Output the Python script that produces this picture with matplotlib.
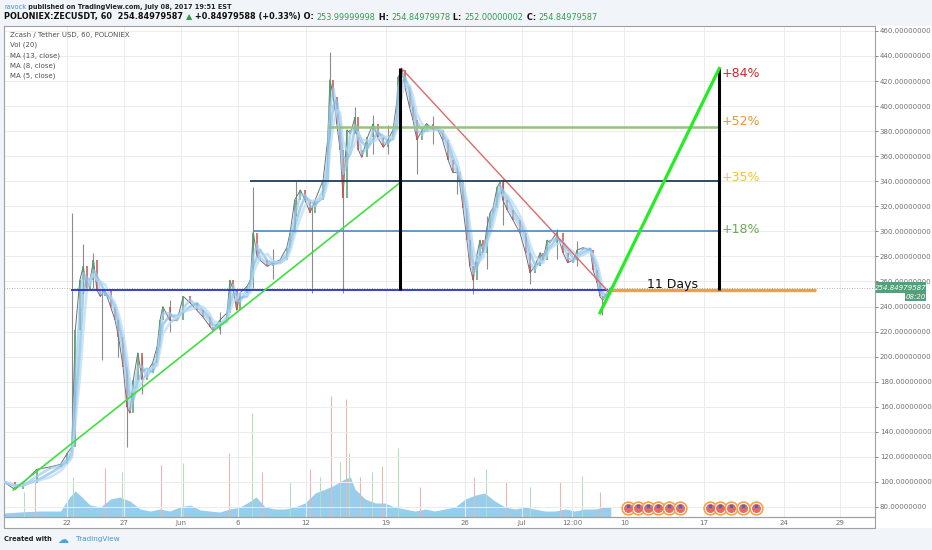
#!/usr/bin/env python3

import matplotlib
matplotlib.use("Agg")
import matplotlib.pyplot as plt
import pandas as pd
from matplotlib.patches import Rectangle

W, H = 932, 550

# time axis is counted in days from June 1st 2017
tick_days = [-10, -5, 0, 5, 11, 18, 25, 30, 34.4, 39, 46, 53, 58]
tick_labels = ["22", "27", "Jun", "6", "12", "19", "26", "Jul", "12:00", "10", "17", "24", "29"]
price_ticks = list(range(80, 461, 20))

days = [-15.6, -14.6, -13.9, -12.7, -11.5, -10.6, -10.0, -9.6, -9.3, -8.9,
        -8.6, -8.3, -8.0, -7.7, -7.4, -7.1, -6.7, -6.2, -5.8, -5.5,
        -5.1, -4.75, -4.5, -4.2, -3.8, -3.4, -3.0, -2.5, -2.1, -1.85,
        -1.6, -1.0, -0.35, 0.2, 0.8, 1.4, 1.9, 2.55, 2.8, 3.4,
        4.05, 4.3, 4.6, 4.9, 5.2, 5.8, 6.1, 6.35, 6.7, 6.95,
        7.6, 8.1, 8.7, 9.3, 9.6, 10.0, 10.5, 10.9, 11.35, 11.8,
        12.5, 12.9, 13.1, 13.4, 13.7, 14.0, 14.25, 14.6, 14.9, 15.3,
        15.6, 15.9, 16.4, 16.9, 17.3, 17.8, 18.2, 18.65, 19.0, 19.1,
        19.45, 19.7, 20.1, 20.4, 20.75, 21.2, 21.6, 22.2, 22.6, 23.0,
        23.5, 23.9, 24.3, 24.5, 24.8, 25.15, 25.4, 25.7, 26.0, 26.3,
        26.6, 26.9, 27.2, 27.45, 27.8, 28.05, 28.3, 28.7, 29.2, 29.8,
        30.3, 30.7, 31.1, 31.6, 31.85, 32.2, 32.45, 33.05, 33.6, 34.0,
        34.5, 34.85, 35.35, 36.0, 36.25, 36.6, 36.85, 37.1, 37.45, 37.75]
closes = [100, 94, 99, 110, 112, 114, 123, 128, 221, 261,
          272, 253, 261, 277, 253, 248, 253, 240, 229, 216,
          192, 160, 155, 181, 203, 181, 187, 195, 208, 229,
          240, 229, 229, 248, 243, 237, 232, 224, 221, 229,
          235, 261, 253, 237, 251, 256, 261, 299, 280, 277,
          272, 275, 277, 287, 299, 325, 333, 325, 315, 325,
          341, 373, 421, 407, 386, 365, 327, 381, 378, 391,
          365, 359, 375, 386, 375, 367, 373, 381, 405, 423,
          429, 415, 399, 389, 373, 381, 386, 381, 381, 373,
          357, 347, 347, 339, 319, 293, 272, 261, 280, 293,
          283, 303, 315, 319, 335, 339, 325, 317, 309, 299,
          283, 267, 272, 283, 277, 293, 291, 299, 283, 275,
          277, 285, 287, 285, 269, 259, 248, 245, 251, 254.85]

# wicks that stick out of the candle mass
wick_days = [-9.6, -8.6, -7.7, -6.95, -5.5, -4.75, -3.4, -1.0, 3.4, 6.3,
             8.1, 10.1, 11.5, 13.1, 14.25, 15.3, 16.9, 18.2, 20.75, 22.2,
             24.3, 25.7, 26.9, 28.3, 30.7, 33.05, 34.85, 37.0]
wick_lows = [128, 250, 255, 197, 200, 128, 170, 220, 218, 255,
             262, 312, 251, 400, 251, 380, 362, 362, 346, 370,
             330, 250, 270, 305, 258, 278, 272, 233]
wick_highs = [315, 290, 283, 253, 230, 165, 200, 245, 236, 335,
              286, 340, 320, 443, 330, 399, 393, 385, 375, 392,
              352, 265, 312, 342, 275, 302, 292, 248]

# volume (relative heights)
vol_days = [-15.57, -14.2, -12.4, -10.6, -9.8, -9.3, -8.9, -8.0, -7.1, -6.2,
            -5.4, -4.5, -3.6, -2.7, -1.85, -1.0, -0.1, 0.8, 1.7, 2.55,
            3.4, 4.3, 5.2, 6.1, 6.6, 7.4, 8.3, 9.15, 10.0, 10.9,
            11.8, 12.7, 13.5, 14.4, 14.9, 15.3, 16.2, 17.1, 17.9, 18.8,
            19.7, 20.6, 21.5, 22.3, 23.2, 24.1, 25.0, 25.9, 26.7, 27.6,
            28.5, 29.4, 30.3, 31.1, 32.0, 32.9, 33.8, 34.65, 35.5, 36.4,
            37.3, 37.8]
vol_area = [4, 5, 6, 6, 20, 26, 22, 12, 10, 18,
            20, 16, 8, 6, 8, 6, 10, 12, 7, 6,
            5, 8, 10, 16, 20, 10, 8, 8, 10, 14,
            24, 28, 32, 38, 40, 28, 18, 14, 14, 10,
            8, 6, 8, 6, 8, 10, 18, 22, 24, 16,
            10, 8, 10, 8, 6, 6, 8, 6, 8, 8,
            10, 10]
spike_days = [-13.8, -12.8, -9.5, -6.7, -5.2, -1.8, 0.2, 4.2, 6.2, 7.1,
              9.6, 11.35, 12.2, 13.2, 14.0, 14.5, 14.8, 15.7, 16.8, 17.7,
              19.1, 21.0, 25.0, 25.8, 26.8, 28.6, 30.7, 33.3, 35.3, 36.85]
spike_vol = [25, 36, 40, 49, 45, 52, 54, 64, 104, 45,
             35, 48, 40, 121, 55, 118, 64, 40, 45, 51,
             69, 30, 45, 40, 48, 35, 30, 35, 41, 25]

# economic event markers (US flags)
event_days = [39.3, 40.2, 41.1, 41.95, 42.9, 43.9, 46.5, 47.4, 48.4, 49.4, 50.6]

# drawing tools
support = 253.2
last_price = 254.85
tri_top = 430
trend_start = (-14.75, 93.6)
trend_end = (19.26, 338.8)
fall_start = (19.4, 430)
fall_end = (37.7, 250.8)
target_start = (36.85, 235)
target_day = 47.34
level_prices = [430, 383.5, 340, 300]
level_texts = ["+84%", "+52%", "+35%", "+18%"]
level_text_colors = ["#cc2a2a", "#e8963a", "#f2c23a", "#6aa84f"]


def fx(px):
    return px / W


def fy(py):
    return 1 - py / H


fig = plt.figure(figsize=(W / 100, H / 100), dpi=100, facecolor="#f1f4f8")

# white panes behind the axes
fig.patches.append(Rectangle((fx(4), fy(517)), fx(871), 491 / H, transform=fig.transFigure,
                             facecolor="white", edgecolor="none", zorder=-2))
fig.patches.append(Rectangle((fx(875), fy(528)), fx(57), 502 / H, transform=fig.transFigure,
                             facecolor="white", edgecolor="none", zorder=-2))
fig.patches.append(Rectangle((fx(4), fy(528)), fx(871), 11 / H, transform=fig.transFigure,
                             facecolor="white", edgecolor="#a0a0a0", lw=0.8, zorder=-1))

ax = fig.add_axes([fx(4), fy(517), fx(871), 491 / H])
ax2 = ax.twinx()
ax.set_zorder(ax2.get_zorder() + 1)
ax.patch.set_visible(False)

# volume
ax2.fill_between(vol_days, vol_area, color="#86c5e8", alpha=0.85, lw=0)
spike_colors = ["#e9b5b5" if i % 2 else "#b5dcc2" for i in range(len(spike_days))]
ax2.vlines(spike_days, 0, spike_vol, colors=spike_colors, lw=0.8)
ax2.set_ylim(0, 491)
ax2.axis("off")

ax.set_xlim(-15.57, 61.04)
ax.set_ylim(72.0, 463.9)

# candles, approximated by close-to-close bodies
ax.vlines(wick_days, wick_lows, wick_highs, colors="#8c8c8c", lw=0.8, zorder=3)
ax.plot(days, closes, color="#6f6f6f", lw=0.7, zorder=3)
body_colors = ["#53a06a" if closes[i] >= closes[i - 1] else "#c8514d" for i in range(1, len(closes))]
ax.vlines(days[1:], closes[:-1], closes[1:], colors=body_colors, lw=1.1, zorder=3)

s = pd.Series(closes)
for w, c in zip([2, 3, 4], ["#9ccbee", "#86bde8", "#b6daf4"]):
    ax.plot(days, s.rolling(w, min_periods=1).mean(), color=c, lw=1.9, alpha=0.7, zorder=4)

# drawings
ax.axhline(last_price, color="#9a9a9a", lw=0.6, ls=(0, (1, 2)), zorder=2)
ax.hlines(support, -9.7, 37.55, color="#1f33d4", lw=1.3, zorder=5)
ax.hlines(support + 0.3, 37.7, 55.85, color="#f0a042", lw=2.4, zorder=5)
ax.plot([trend_start[0], trend_end[0]], [trend_start[1], trend_end[1]], color="#3ee03e", lw=1.2, zorder=5)
ax.vlines(trend_end[0], support, tri_top, color="black", lw=2.2, zorder=6)
ax.plot([fall_start[0], fall_end[0]], [fall_start[1], fall_end[1]], color="#e06868", lw=1.0, zorder=5)
ax.hlines(level_prices[1], 12.9, target_day, color="#93c47d", lw=1.8, zorder=5)
ax.hlines(level_prices[2], 6.1, target_day, color="#1e3f5e", lw=1.3, zorder=5)
ax.hlines(level_prices[3], 6.3, target_day, color="#4f88bf", lw=1.2, zorder=5)
ax.vlines(target_day, support, tri_top, color="black", lw=2.2, zorder=6)
ax.plot([target_start[0], target_day], [target_start[1], tri_top], color="#22ee22", lw=2.3, zorder=6)

for lp, lt, lc, dy in zip(level_prices, level_texts, level_text_colors, [-4, 4, 3, 1.5]):
    ax.text(target_day + 0.25, lp + dy, lt, color=lc, fontsize=9, va="center", ha="left", zorder=7)
ax.text(43.2, 257.5, "11 Days", color="#111", fontsize=9, va="center", ha="center", zorder=7)

# event icons
ax.scatter(event_days, [79.5] * len(event_days), s=85, facecolor="white", edgecolor="#f0a03c",
           lw=1.1, zorder=6, clip_on=False)
ax.scatter(event_days, [79.5] * len(event_days), s=30, color="#e26a6a", zorder=7, clip_on=False)
ax.scatter(event_days, [80.8] * len(event_days), s=3, marker="s", color="#4a6ab8", zorder=8,
           clip_on=False)

# axes styling
ax.set_xticks(tick_days)
ax.set_xticklabels(tick_labels)
ax.yaxis.tick_right()
ax.set_yticks(price_ticks)
ax.set_yticklabels([f"{v:.8f}" for v in price_ticks])
ax.tick_params(axis="y", labelsize=5, colors="#707070", length=2, pad=1.5, width=0.6)
ax.tick_params(axis="x", labelsize=5, colors="#707070", length=0, pad=2.5)
ax.grid(True, color="#ececec", lw=0.7)
ax.set_axisbelow(True)
for sp in ax.spines.values():
    sp.set_color("#a0a0a0")
    sp.set_linewidth(0.8)

# price label on the scale
fig.patches.append(Rectangle((fx(876), fy(293)), fx(50), 11 / H, transform=fig.transFigure,
                             facecolor="#55a07a", edgecolor="none", zorder=5))
fig.patches.append(Rectangle((fx(905), fy(301)), fx(21), 8 / H, transform=fig.transFigure,
                             facecolor="#55a07a", edgecolor="none", zorder=5))
fig.text(fx(901), fy(287.5), "254.84979587", color="white", fontsize=5, style="italic",
         ha="center", va="center", zorder=6)
fig.text(fx(915.5), fy(297), "08:20", color="white", fontsize=5, style="italic",
         ha="center", va="center", zorder=6)

# header and legend texts
renderer = fig.canvas.get_renderer()


def text_run(x, y, runs, size):
    for txt, color, weight in runs:
        t = fig.text(fx(x), fy(y), txt, color=color, fontsize=size, fontweight=weight,
                     ha="left", va="center")
        x += t.get_window_extent(renderer=renderer).width


green = "#2f9e4c"
text_run(4, 7, [("ravock", "#3d8fd6", "normal"),
                (" published on TradingView.com, July 08, 2017 19:51 EST", "#222222", "bold")], 4.7)
text_run(4, 17, [("POLONIEX:ZECUSDT, 60  254.84979587 ", "#111111", "bold"),
                 ("▲", green, "normal"),
                 (" +0.84979588 (+0.33%) O: ", "#111111", "bold"),
                 ("253.99999998", green, "normal"),
                 (" H: ", "#111111", "bold"),
                 ("254.84979978", green, "normal"),
                 (" L: ", "#111111", "bold"),
                 ("252.00000002", green, "normal"),
                 (" C: ", "#111111", "bold"),
                 ("254.84979587", green, "normal")], 5.85)

legend_lines = ["Zcash / Tether USD, 60, POLONIEX", "Vol (20)", "MA (13, close)", "MA (8, close)", "MA (5, close)"]
for i, line in enumerate(legend_lines):
    fig.text(fx(10), fy(35 + 10.2 * i), line, color="#505050", fontsize=5.0, ha="left", va="center")

fig.text(fx(4), fy(539), "Created with", color="#222222", fontsize=4.8, fontweight="bold", ha="left", va="center")
fig.text(fx(57), fy(539.5), "☁", color="#4aa3de", fontsize=8, ha="left", va="center")
fig.text(fx(76), fy(539), "TradingView", color="#3d9ad8", fontsize=5.2, ha="left", va="center")

fig.savefig("out.png", dpi=100, facecolor=fig.get_facecolor())
